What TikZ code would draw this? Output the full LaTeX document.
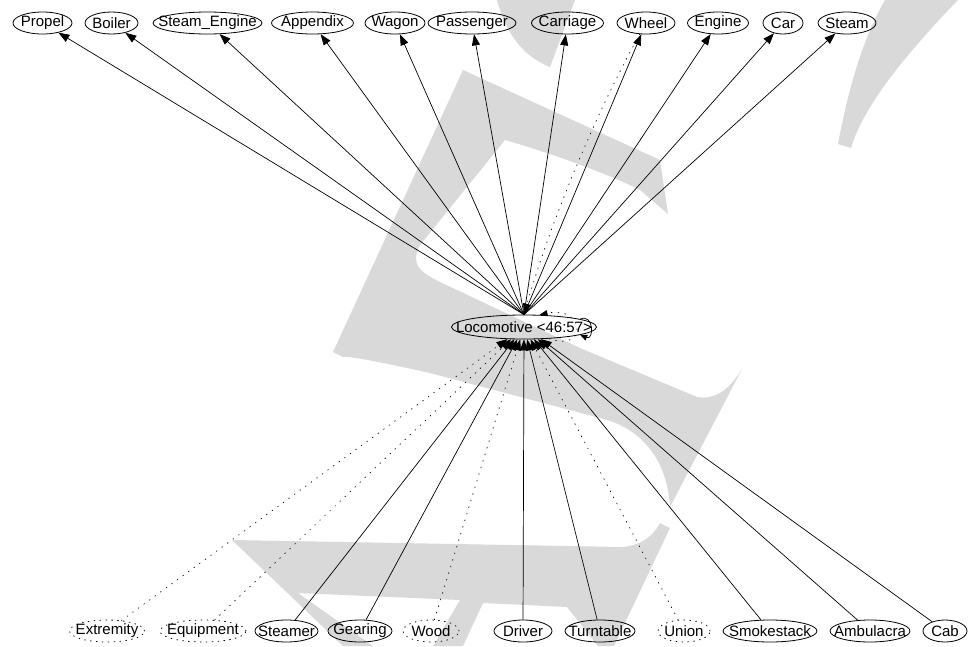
\documentclass[tikz,border=0pt]{standalone}
\usepackage{fontspec}
\setmainfont{Liberation Sans}
\usetikzlibrary{shapes.geometric,arrows.meta}
\definecolor{wm}{RGB}{217,217,217}
\begin{document}
\begin{tikzpicture}[x=1pt,y=-1pt,
  nd/.style={ellipse,draw,line width=0.8pt,inner sep=0pt,minimum height=22pt,font=\fontsize{15}{17}\selectfont},
  dnd/.style={nd,dash pattern=on 0.9pt off 5pt,line cap=round},
  ed/.style={line width=0.7pt,-{Triangle[length=11pt,width=8pt]}},
  ded/.style={ed,dash pattern=on 0.9pt off 6pt,line cap=round}]
\useasboundingbox (0,0) rectangle (970,646);
% watermark
\fill[wm] (333,352) -- (463,70) -- (660,160) -- (668,214) -- (640,190)
  .. controls (600,170) and (540,150) .. (505,140) -- (420,245)
  .. controls (410,265) and (420,272) .. (440,282) -- (580,348) -- (697,397)
  .. controls (715,400) and (730,390) .. (743,367) -- (670,507)
  .. controls (668,470) and (650,430) .. (600,418) -- (430,373)
  .. controls (380,362) and (350,356) .. (343,357) -- cycle;
\fill[wm] (232,540) -- (623,547) .. controls (640,545) and (652,538) .. (660,523)
  -- (670,528) -- (614,646) -- (598,646) -- (567,607) -- (483,603) -- (463,646)
  -- (433,646) -- (460,600) -- (298,593) -- (373,646) -- (343,646) -- cycle;
\fill[wm] (885,0) -- (958,0) .. controls (900,60) and (862,110) .. (851,148)
  -- (838,144) .. controls (850,80) and (865,35) .. (885,0) -- cycle;
\fill[wm] (497,0) .. controls (505,30) and (520,55) .. (550,67) -- (575,0) -- cycle;
% nodes
\node[nd,minimum width=145pt,minimum height=24pt] (loc) at (524,327) {\makebox[0pt]{Locomotive <46:57>}};
\node[nd,minimum width=59pt] (propel) at (42.5,23) {\makebox[0pt]{Propel}};
\node[nd,minimum width=53pt] (boiler) at (111.5,23) {\makebox[0pt]{Boiler}};
\node[nd,minimum width=109pt] (steameng) at (207.5,23) {\makebox[0pt]{Steam\_Engine}};
\node[nd,minimum width=82pt] (appendix) at (312.5,23) {\makebox[0pt]{Appendix}};
\node[nd,minimum width=60pt] (wagon) at (395,23) {\makebox[0pt]{Wagon}};
\node[nd,minimum width=88pt] (passenger) at (472,23) {\makebox[0pt]{Passenger}};
\node[nd,minimum width=72pt] (carriage) at (567.5,23) {\makebox[0pt]{Carriage}};
\node[nd,minimum width=58pt] (wheel) at (646,23) {\makebox[0pt]{Wheel}};
\node[nd,minimum width=61pt] (engine) at (718,23) {\makebox[0pt]{Engine}};
\node[nd,minimum width=40pt] (car) at (783,23) {\makebox[0pt]{Car}};
\node[nd,minimum width=58pt] (steam) at (847,23) {\makebox[0pt]{Steam}};
\node[dnd,minimum width=75pt] (extremity) at (107,631) {\makebox[0pt]{Extremity}};
\node[dnd,minimum width=86pt] (equipment) at (203,631) {\makebox[0pt]{Equipment}};
\node[nd,minimum width=63pt] (steamer) at (286.5,631) {\makebox[0pt]{Steamer}};
\node[nd,minimum width=64pt] (gearing) at (360,631) {\makebox[0pt]{Gearing}};
\node[dnd,minimum width=56pt] (wood) at (431,631) {\makebox[0pt]{Wood}};
\node[nd,minimum width=58pt] (driver) at (523,631) {\makebox[0pt]{Driver}};
\node[nd,minimum width=70pt] (turntable) at (600,631) {\makebox[0pt]{Turntable}};
\node[dnd,minimum width=52pt] (union) at (684,631) {\makebox[0pt]{Union}};
\node[nd,minimum width=94pt] (smokestack) at (770,631) {\makebox[0pt]{Smokestack}};
\node[nd,minimum width=80pt] (ambulacra) at (870,631) {\makebox[0pt]{Ambulacra}};
\node[nd,minimum width=44pt] (cab) at (945,631) {\makebox[0pt]{Cab}};
% top edges
\foreach \t in {propel,boiler,steameng,appendix,wagon,passenger,carriage,wheel,engine,car,steam}
  \draw[ed] (loc.north) -- (\t);
\draw[ded] (wheel) .. controls (592,120) and (548,230) .. (loc.north);
% self loops
\draw[ed,-{Triangle[length=7pt,width=6pt]}] (loc.8) .. controls +(14,-6) and +(14,6) .. (loc.-8);
\draw[ded,-{Triangle[length=8pt,width=6pt]}] (loc.-25) .. controls +(40,14) and +(45,-10) .. (loc.38);
% bottom edges
\foreach \s in {steamer,gearing,driver,turntable,smokestack,ambulacra,cab}
  \draw[ed] (\s) -- (loc);
\foreach \s in {extremity,equipment,wood,union}
  \draw[ded] (\s) -- (loc);
\end{tikzpicture}
\end{document}
